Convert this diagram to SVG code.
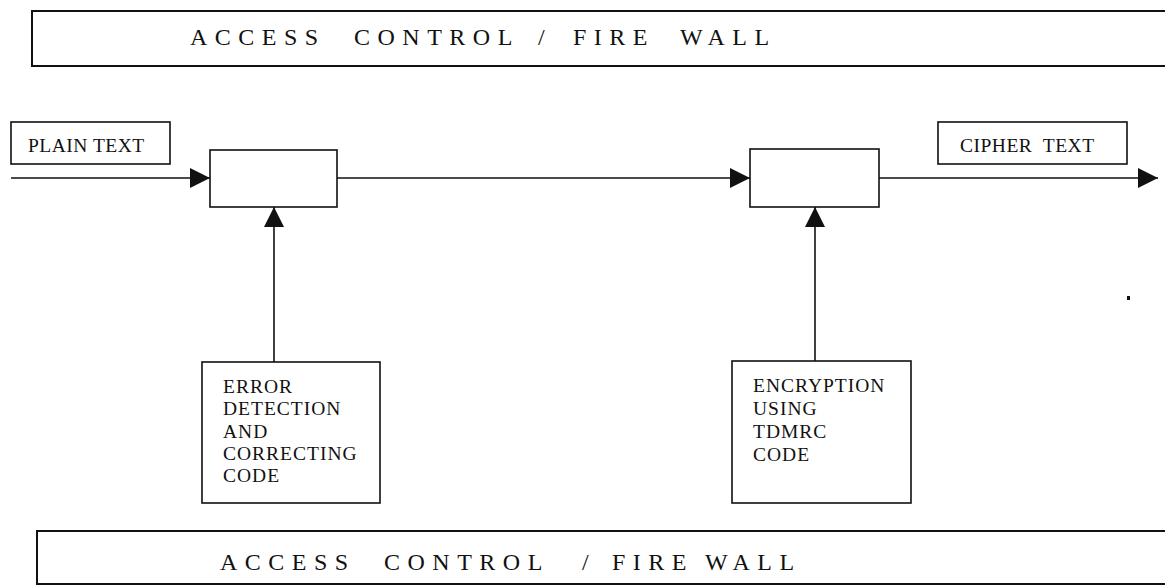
<svg xmlns="http://www.w3.org/2000/svg" width="1165" height="586" viewBox="0 0 1165 586">
  <style>
    .box { fill: none; stroke: #111; stroke-width: 1.6; }
    .wall { fill: none; stroke: #111; stroke-width: 2; }
    .line { fill: none; stroke: #111; stroke-width: 1.6; }
    .t { font-family: "Liberation Serif", "Times New Roman", serif; fill: #111; }
    .big { font-size: 24px; letter-spacing: 7.5px; }
    .lbl { font-size: 19.5px; letter-spacing: 0.5px; }
    .blk { font-size: 19.5px; letter-spacing: 1px; }
  </style>
  <defs>
    <marker id="ah" viewBox="0 0 20 20" refX="20" refY="10" markerWidth="20" markerHeight="20" markerUnits="userSpaceOnUse" orient="auto">
      <path d="M0,0 L20,10 L0,20 Z" fill="#111"/>
    </marker>
  </defs>
  <rect width="1165" height="586" fill="#fff"/>

  <g id="firewall-top">
    <path class="wall" d="M1170,11 H32 V66 H1170"/>
    <text class="t big" y="45"><tspan x="190">ACCESS</tspan><tspan x="354">CONTROL</tspan><tspan x="538">/</tspan><tspan x="573">FIRE</tspan><tspan x="680">WALL</tspan></text>
  </g>

  <g id="plain-text">
    <rect class="box" x="11" y="122" width="159" height="42"/>
    <text class="t lbl" x="28" y="152">PLAIN TEXT</text>
  </g>

  <g id="ecc-block">
    <rect class="box" x="210" y="150" width="127" height="57"/>
  </g>

  <g id="enc-block">
    <rect class="box" x="750" y="149" width="129" height="58"/>
  </g>

  <g id="cipher-text">
    <rect class="box" x="938" y="122" width="189" height="42"/>
    <text class="t lbl" x="960" y="152" xml:space="preserve">CIPHER  TEXT</text>
  </g>

  <g id="ecc-code">
    <rect class="box" x="202" y="362" width="178" height="141"/>
    <text class="t blk">
      <tspan x="223" y="393">ERROR</tspan>
      <tspan x="223" y="415">DETECTION</tspan>
      <tspan x="223" y="438">AND</tspan>
      <tspan x="223" y="460">CORRECTING</tspan>
      <tspan x="223" y="482">CODE</tspan>
    </text>
  </g>

  <g id="tdmrc-code">
    <rect class="box" x="732" y="361" width="179" height="142"/>
    <text class="t blk">
      <tspan x="753" y="392">ENCRYPTION</tspan>
      <tspan x="753" y="415">USING</tspan>
      <tspan x="753" y="438">TDMRC</tspan>
      <tspan x="753" y="461">CODE</tspan>
    </text>
  </g>

  <g id="firewall-bottom">
    <path class="wall" d="M1170,531 H37 V584 H1170"/>
    <text class="t big" y="570"><tspan x="220">ACCESS</tspan><tspan x="384">CONTROL</tspan><tspan x="582">/</tspan><tspan x="612">FIRE</tspan><tspan x="705">WALL</tspan></text>
  </g>

  <g id="connectors">
    <line class="line" x1="11" y1="178" x2="210" y2="178" marker-end="url(#ah)"/>
    <line class="line" x1="337" y1="178" x2="750" y2="178" marker-end="url(#ah)"/>
    <line class="line" x1="879" y1="178" x2="1158" y2="178" marker-end="url(#ah)"/>
    <line class="line" x1="274" y1="362" x2="274" y2="207" marker-end="url(#ah)"/>
    <line class="line" x1="815" y1="361" x2="815" y2="207" marker-end="url(#ah)"/>
  </g>

  <rect x="1127" y="296" width="3" height="4" fill="#111"/>
</svg>
